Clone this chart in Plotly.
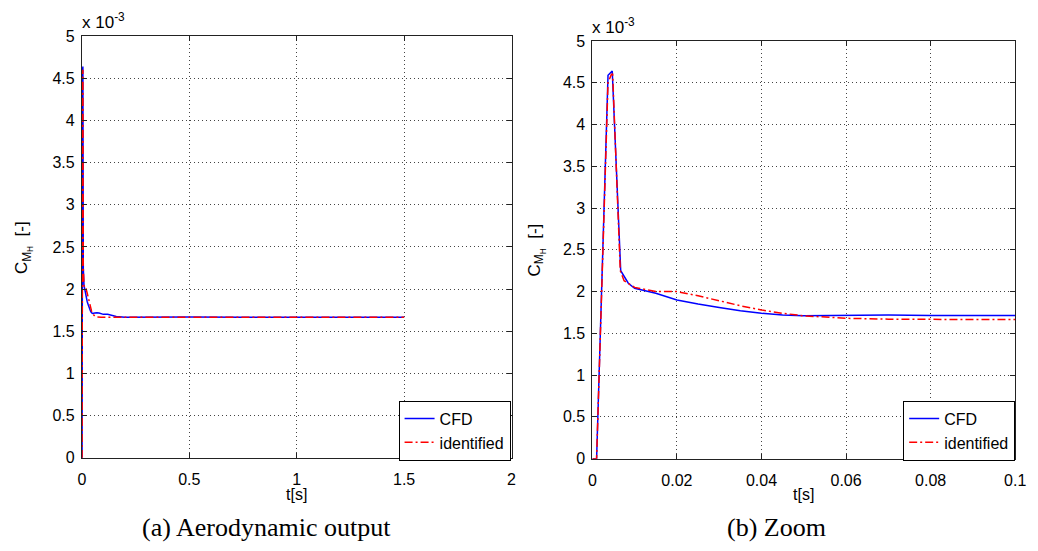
import plotly.graph_objects as go

# Moment coefficient C_MH (in units of 1e-3) versus time t [s]
t_cfd = [0.0, 0.001, 0.0037, 0.0047, 0.0067, 0.0085, 0.010, 0.015, 0.020, 0.025,
         0.030, 0.035, 0.040, 0.045, 0.050, 0.060, 0.070, 0.080, 0.090, 0.100,
         0.120, 0.140, 0.160, 0.200, 0.300, 0.500, 0.750, 1.000, 1.250, 1.500]
cm_cfd = [0.0, 0.0, 4.59, 4.64, 2.25, 2.10, 2.04, 1.98, 1.90, 1.85,
          1.81, 1.77, 1.74, 1.72, 1.71, 1.715, 1.72, 1.715, 1.71, 1.70,
          1.70, 1.69, 1.675, 1.667, 1.665, 1.668, 1.667, 1.665, 1.667, 1.667]

t_id = [0.0, 0.001, 0.0037, 0.0045, 0.0048, 0.0066, 0.0075, 0.0085, 0.010, 0.015,
        0.020, 0.025, 0.030, 0.035, 0.040, 0.045, 0.050, 0.060, 0.070, 0.080,
        0.090, 0.100, 0.150, 0.300, 0.500, 1.000, 1.500]
cm_id = [0.0, 0.0, 4.50, 4.60, 4.60, 2.25, 2.13, 2.10, 2.05, 2.00,
         2.00, 1.95, 1.89, 1.83, 1.78, 1.74, 1.71, 1.68, 1.67, 1.665,
         1.665, 1.667, 1.667, 1.667, 1.667, 1.667, 1.667]

x_ticks_full = [0, 0.5, 1, 1.5, 2]
x_ticks_zoom = [0, 0.02, 0.04, 0.06, 0.08, 0.1]
y_ticks = [0, 0.5, 1, 1.5, 2, 2.5, 3, 3.5, 4, 4.5, 5]

W, H = 1038, 551
FONT = "Liberation Sans"
SERIF = "Liberation Serif"

fig = go.Figure()

for xa, ya, leg in (("x", "y", "legend"), ("x2", "y2", "legend2")):
    fig.add_trace(go.Scatter(x=t_cfd, y=cm_cfd, mode="lines", name="CFD",
                             line=dict(color="#0000ff", width=1.5),
                             xaxis=xa, yaxis=ya, legend=leg))
    fig.add_trace(go.Scatter(x=t_id, y=cm_id, mode="lines", name="identified",
                             line=dict(color="#ff0000", width=1.5, dash="8px,3px,2px,3px"),
                             xaxis=xa, yaxis=ya, legend=leg))

axis_common = dict(
    showline=True, linecolor="#222", linewidth=1, mirror="ticks",
    ticks="inside", ticklen=5, tickcolor="#222", tickwidth=1,
    showgrid=True, gridcolor="#444", gridwidth=1, griddash="1px,3px",
    zeroline=False, tickfont=dict(family=FONT, size=16, color="#000"),
)
x_common = dict(axis_common, ticklabelstandoff=7)
y_common = dict(axis_common, ticklabelstandoff=3)


def xd(a, b):
    return [a / W, b / W]


def yd(top, bottom):
    return [1 - bottom / H, 1 - top / H]


legend_style = dict(xanchor="right", yanchor="bottom", bgcolor="white",
                    bordercolor="#000", borderwidth=1, tracegroupgap=0,
                    font=dict(family=FONT, size=16, color="#000"))

fig.update_layout(
    width=W, height=H,
    margin=dict(l=0, r=0, t=0, b=0),
    paper_bgcolor="white", plot_bgcolor="white",
    xaxis=dict(x_common, domain=xd(79, 515), range=[0, 2], tickvals=x_ticks_full, anchor="y"),
    yaxis=dict(y_common, domain=yd(29, 464), range=[0, 5], tickvals=y_ticks, anchor="x"),
    xaxis2=dict(x_common, domain=xd(597, 1026), range=[0, 0.1], tickvals=x_ticks_zoom, anchor="y2"),
    yaxis2=dict(y_common, domain=yd(34, 465), range=[0, 5], tickvals=y_ticks, anchor="x2"),
    legend=dict(legend_style, x=514 / W, y=1 - 467 / H),
    legend2=dict(legend_style, x=1026 / W, y=1 - 467 / H),
)


def label(text, px, py, size=17, family=FONT, angle=0, xanchor="center"):
    return dict(text=text, x=px / W, y=1 - py / H, xref="paper", yref="paper",
                xanchor=xanchor, yanchor="middle", textangle=angle, showarrow=False,
                font=dict(family=family, size=size, color="#000"))


ylab = "C<sub>M<sub>H</sub></sub>  [-]"
ann = [
    label("t[s]", 297, 502, size=16),
    label("t[s]", 811, 502, size=16),
    label(ylab, 20, 247, angle=-90),
    label(ylab, 540, 250, angle=-90),
    label("x 10<sup>-3</sup>", 77, 13, xanchor="left"),
    label("x 10<sup>-3</sup>", 595, 19, xanchor="left"),
    label("(a) Aerodynamic output", 266, 536, size=26, family=SERIF),
    label("(b) Zoom", 784, 536, size=26, family=SERIF),
]
fig.update_layout(annotations=ann)

fig.write_html("out.html")
